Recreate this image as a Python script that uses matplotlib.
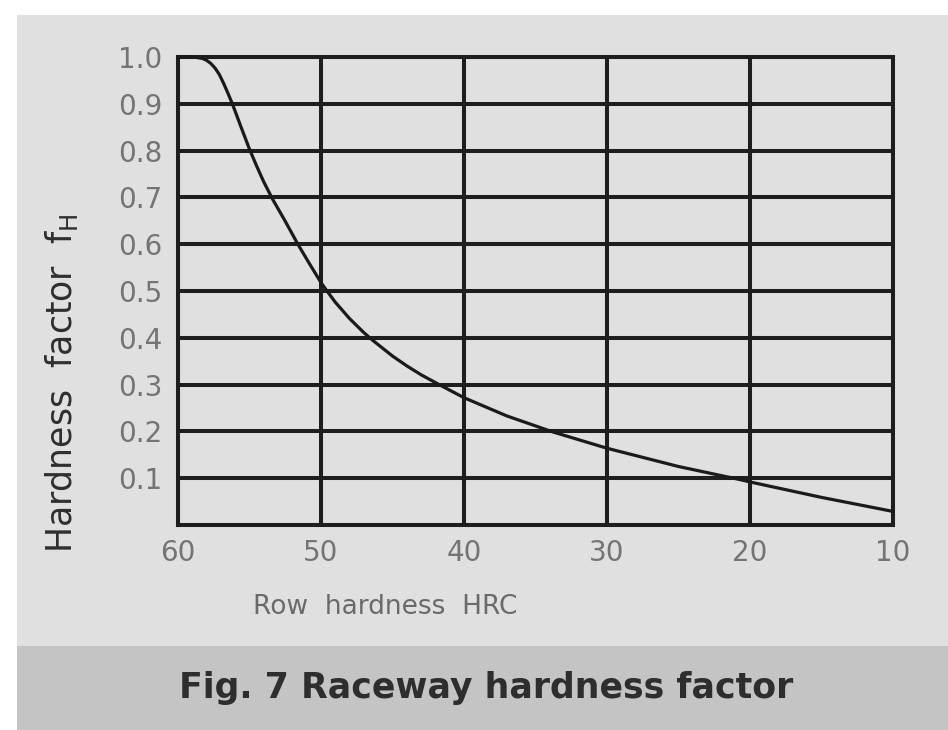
import matplotlib
matplotlib.use("Agg")
import matplotlib.pyplot as plt
from matplotlib.patches import Rectangle

plt.rcParams['font.family'] = ['DejaVu Sans']
plt.rcParams['mathtext.fontset'] = 'dejavusans'

# Data
hrc = [60, 59.5, 59, 58.7, 58.3, 58, 57.7, 57.4, 57.1, 56.8, 56.5, 56.2, 55.5, 55, 54.5, 54,
       53.4, 52.5, 51.6, 50.8, 50, 49.7, 49, 48, 47, 46.4, 45, 44, 43, 41.8, 40, 37, 33.8,
       30, 25, 20.7, 20, 15, 10]
fh = [1.0, 1.0, 1.0, 0.999, 0.997, 0.993, 0.986, 0.976, 0.962, 0.943, 0.922, 0.9, 0.843,
      0.803, 0.767, 0.733, 0.697, 0.649, 0.599, 0.558, 0.518, 0.505, 0.476, 0.441, 0.411,
      0.395, 0.361, 0.340, 0.321, 0.301, 0.272, 0.233, 0.199, 0.164, 0.125, 0.097, 0.092,
      0.059, 0.029]

x_ticks = [60, 50, 40, 30, 20, 10]
y_ticks = [0.1, 0.2, 0.3, 0.4, 0.5, 0.6, 0.7, 0.8, 0.9, 1.0]

W, H = 948, 730
fig = plt.figure(figsize=(W / 100, H / 100), dpi=100)
fig.patch.set_facecolor('white')

# background panels
fig.patches.append(Rectangle((17 / W, (H - 646) / H), 1 - 17 / W, (646 - 15) / H,
                             transform=fig.transFigure, facecolor='#e0e0e0', edgecolor='none', zorder=-5))
fig.patches.append(Rectangle((17 / W, 0), 1 - 17 / W, (H - 646) / H,
                             transform=fig.transFigure, facecolor='#c4c4c4', edgecolor='none', zorder=-5))

ax = fig.add_axes([178 / W, (H - 525) / H, (893 - 178) / W, (525 - 57) / H])
ax.set_zorder(2)
ax.set_facecolor('#e0e0e0')
ax.plot(hrc, fh, color='#1a1a1a', lw=2.3, solid_capstyle='round', solid_joinstyle='round',
        zorder=3, clip_on=False)

ax.set_xlim(60, 10)
ax.set_ylim(0, 1.0)
ax.set_xticks(x_ticks)
ax.set_yticks(y_ticks)
ax.set_xticklabels([str(v) for v in x_ticks])
ax.set_yticklabels([f"{v:.1f}" for v in y_ticks])
ax.tick_params(length=0, labelsize=20, labelcolor='#747474')
ax.tick_params(axis='x', pad=10)
ax.tick_params(axis='y', pad=11)
ax.grid(True, color='#1e1e1e', lw=2.9)
ax.set_axisbelow(False)
for s in ax.spines.values():
    s.set_color('#1e1e1e')
    s.set_linewidth(2.9)

fig.text(62 / W, 1 - 383 / H, 'Hardness  factor  f$_\\mathregular{H}$', rotation=90,
         ha='center', va='center', fontsize=25, color='#2e2e2e')
fig.text(385 / W, 1 - 607 / H, 'Row  hardness  HRC', ha='center', va='center',
         fontsize=19, color='#6a6a6a')
fig.text(486 / W, 1 - 688 / H, 'Fig. 7 Raceway hardness factor', ha='center', va='center',
         fontsize=25, fontweight='bold', color='#2e2e2e')

fig.savefig('out.png', dpi=100)
